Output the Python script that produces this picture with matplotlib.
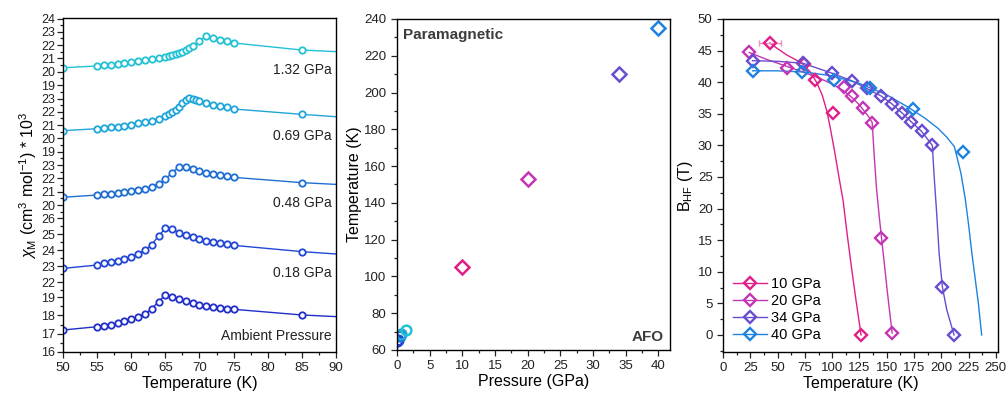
import matplotlib
matplotlib.use("Agg")
import matplotlib.pyplot as plt
from matplotlib.lines import Line2D
from matplotlib.ticker import MultipleLocator, FixedLocator

plt.rcParams['font.family'] = ['Liberation Sans', 'DejaVu Sans']
plt.rcParams['mathtext.fontset'] = 'custom'
plt.rcParams['mathtext.rm'] = 'Liberation Sans'
plt.rcParams['mathtext.it'] = 'Liberation Sans:italic'

# ---------------- data: panel (a) susceptibility vs T ----------------
T_amb = [50, 55, 56, 57, 58, 59, 60, 61, 62, 63, 64, 65, 66, 67, 68, 69, 70, 71, 72, 73, 74, 75, 85, 90]
chi_amb = [17.20, 17.38, 17.44, 17.46, 17.60, 17.67, 17.78, 17.91, 18.07, 18.36, 18.75,
           19.11, 19.02, 18.87, 18.76, 18.67, 18.58, 18.51, 18.45, 18.42, 18.36, 18.33, 18.02, 17.93]
T_018 = [50, 55, 56, 57, 58, 59, 60, 61, 62, 63, 64, 65, 66, 67, 68, 69, 70, 71, 72, 73, 74, 75, 85, 90]
chi_018 = [22.85, 23.06, 23.17, 23.27, 23.33, 23.44, 23.58, 23.75, 24.00, 24.33, 24.88,
           25.35, 25.29, 25.08, 24.92, 24.79, 24.67, 24.58, 24.50, 24.42, 24.35, 24.29, 23.90, 23.75]
T_048 = [50, 55, 56, 57, 58, 59, 60, 61, 62, 63, 64, 65, 66, 67, 68, 69, 70, 71, 72, 73, 74, 75, 85, 90]
chi_048 = [20.58, 20.75, 20.80, 20.85, 20.90, 20.95, 21.03, 21.13, 21.23, 21.38, 21.58,
           21.95, 22.43, 22.88, 22.88, 22.68, 22.53, 22.43, 22.33, 22.26, 22.18, 22.08, 21.68, 21.55]
T_069 = [50, 55, 56, 57, 58, 59, 60, 61, 62, 63, 64, 65, 65.5, 66, 66.5, 67, 67.5, 68, 68.5,
         69, 69.5, 70, 71, 72, 73, 74, 75, 85, 90]
chi_069 = [20.58, 20.73, 20.78, 20.83, 20.88, 20.96, 21.03, 21.13, 21.23, 21.33, 21.48,
           21.68, 21.81, 21.96, 22.14, 22.39, 22.69, 22.89, 23.01, 22.99, 22.89, 22.79,
           22.64, 22.54, 22.44, 22.34, 22.21, 21.81, 21.63]
T_132 = [50, 55, 56, 57, 58, 59, 60, 61, 62, 63, 64, 65, 65.5, 66, 66.5, 67, 67.5, 68, 68.5,
         69, 70, 71, 72, 73, 74, 75, 85, 90]
chi_132 = [20.30, 20.43, 20.48, 20.53, 20.58, 20.65, 20.70, 20.78, 20.85, 20.93, 21.03,
           21.13, 21.18, 21.23, 21.31, 21.38, 21.48, 21.63, 21.78, 21.93, 22.33, 22.68,
           22.56, 22.41, 22.28, 22.16, 21.63, 21.51]
labels_a = ['Ambient Pressure', '0.18 GPa', '0.48 GPa', '0.69 GPa', '1.32 GPa']

# ---------------- data: panel (b) phase diagram ----------------
P_circ = [0, 0.18, 0.48, 0.69, 1.32]
TN_circ = [65, 65.5, 67.5, 68.5, 71]
P_diam = [10, 20, 34, 40]
TN_diam = [105, 153, 210, 235]

# ---------------- data: panel (c) hyperfine field ----------------
T10 = [43, 74, 84, 101, 126.5]
B10 = [46.2, 42.8, 40.4, 35.1, 0]
T10_err = [10, 0, 0, 0, 0]
T20 = [24, 58.5, 110.5, 118.3, 128.2, 136.7, 145.2, 155]
B20 = [44.7, 42.3, 39.3, 37.8, 35.9, 33.6, 15.4, 0.3]
T34 = [27, 73.2, 100.2, 118.3, 131.7, 145, 154.5, 163.6, 172.7, 182, 191.8, 201, 211.7]
B34 = [43.4, 43.0, 41.4, 40.2, 39.0, 37.8, 36.6, 35.2, 33.7, 32.2, 30.0, 7.6, 0]
T40 = [27, 72.8, 101.4, 135.1, 173.7, 220.3]
B40 = [41.7, 41.6, 40.3, 39.1, 35.7, 29.0]

# guide curves
T10_fit = [43, 50, 58.5, 66, 73, 80, 86, 91, 95, 98, 102, 106, 110, 114, 118, 122, 126.5]
B10_fit = [46.2, 45.3, 44.3, 43.6, 42.9, 41.6, 39.9, 37.9, 35.5, 33.0, 29.3, 25.2, 21.3, 15.6, 10.3, 5.3, 0]
T20_fit = [24, 40, 58.5, 75, 90, 100, 110, 118, 125, 130, 134, 136.7, 138.5, 140.5, 143, 145.2, 148, 150.4, 153, 155]
B20_fit = [44.7, 43.6, 42.5, 41.5, 40.5, 39.7, 38.7, 37.6, 36.4, 35.3, 34.4, 33.6, 28.5, 23.5, 19.0, 15.4, 11.0, 7.1, 3.2, 0.3]
T34_fit = [27, 50, 73.2, 100.2, 118.3, 131.7, 145, 154.5, 163.6, 172.7, 182, 191.8, 193.5, 195.5, 198, 201, 205, 211.7]
B34_fit = [43.4, 43.3, 43.0, 41.4, 40.2, 39.0, 37.8, 36.6, 35.2, 33.7, 32.2, 30.0, 25.0, 20.0, 13.0, 7.6, 4.0, 0]
T40_fit = [27, 50, 75, 100, 125, 150, 170, 185, 197, 205, 212, 218, 222, 225, 228, 231, 234, 237]
B40_fit = [41.8, 41.8, 41.6, 41.0, 39.8, 38.0, 36.0, 34.3, 32.7, 31.3, 29.8, 25.6, 21.5, 17.5, 13.0, 9.0, 5.0, 0]
labels_c = ['10 GPa', '20 GPa', '34 GPa', '40 GPa']

# colours
col_a = ['#1f2fc8', '#2047d6', '#1f6fd2', '#1fa6d8', '#22c2d4']
col_c = ['#e01f88', '#c336b4', '#6a4ccf', '#1f82e0']

fig = plt.figure(figsize=(10.08, 3.94), dpi=100)
ax1 = fig.add_axes([0.0625, 0.1066, 0.2708, 0.8477])
ax2 = fig.add_axes([0.3938, 0.1117, 0.2708, 0.8401])
ax3 = fig.add_axes([0.7173, 0.1066, 0.2728, 0.8452])

for ax in (ax1, ax2, ax3):
    for s in ax.spines.values():
        s.set_linewidth(1.0)
    ax.tick_params(which='both', direction='out', top=False, right=False,
                   labelsize=9.5, colors='#222222', width=0.9)
    ax.tick_params(which='major', length=4)
    ax.tick_params(which='minor', length=2.2)

# ---------- panel (a): stacked layers, each with its own scale ----------
# (value at lowest label, position of that label, px per unit, lowest label, highest label)
segs = [(16, 0.0, 18.33, 16, 19),
        (22, 70.0, 16.0, 22, 26),
        (20, 147.0, 13.3, 20, 23),
        (19, 200.3, 13.3, 19, 23),
        (19, 267.0, 13.3, 19, 24)]


def to_u(vals, seg):
    v0, u0, sc = seg[0], seg[1], seg[2]
    return [u0 + (v - v0) * sc for v in vals]


series_a = [(T_amb, chi_amb), (T_018, chi_018), (T_048, chi_048), (T_069, chi_069), (T_132, chi_132)]
for (tt, cc), seg, col in zip(series_a, segs, col_a):
    ax1.plot(tt, to_u(cc, seg), '-o', color=col, lw=1.0, ms=4.6, mew=1.3,
             mfc='white', markevery=list(range(len(tt) - 1)))

maj_pos, maj_lab, min_pos = [], [], []
prev_top = None
for seg in segs:
    vals = list(range(seg[3], seg[4] + 1))
    us = to_u(vals, seg)
    maj_pos += us
    maj_lab += [str(v) for v in vals]
    min_pos += [u + seg[2] / 2 for u in us[:-1]]
    if prev_top is not None:
        min_pos.append((prev_top + us[0]) / 2)
    prev_top = us[-1]
ax1.yaxis.set_major_locator(FixedLocator(maj_pos))
ax1.set_yticklabels(maj_lab)
ax1.yaxis.set_minor_locator(FixedLocator(min_pos))
ax1.tick_params(axis='y', labelsize=9, pad=1.5)
ax1.set_ylim(0, 334)
ax1.set_xlim(50, 90)
ax1.xaxis.set_major_locator(MultipleLocator(5))
ax1.xaxis.set_minor_locator(MultipleLocator(2.5))
ax1.set_xlabel('Temperature (K)', fontsize=11.5, labelpad=1)
ax1.set_ylabel(r'$\chi_{\rm M}$ (cm$^3$ mol$^{-1}$) * 10$^3$', fontsize=11.5, labelpad=2)

lab_u = [16.3, 79, 149.3, 216, 282]
for txt, u in zip(labels_a, lab_u):
    ax1.text(89.4, u, txt, ha='right', va='center', fontsize=10, color='#222222')

# ---------- panel (b): phase diagram ----------
for p, t, col in zip(P_circ, TN_circ, col_a):
    ax2.plot([p], [t], 'o', color=col, ms=7, mew=1.8, mfc='none')
for p, t, col in zip(P_diam, TN_diam, col_c):
    ax2.plot([p], [t], 'D', color=col, ms=7, mew=1.8, mfc='none')
ax2.set_xlim(0, 41.8)
ax2.set_ylim(60, 240)
ax2.xaxis.set_major_locator(MultipleLocator(5))
ax2.xaxis.set_minor_locator(MultipleLocator(2.5))
ax2.yaxis.set_major_locator(MultipleLocator(20))
ax2.yaxis.set_minor_locator(MultipleLocator(10))
ax2.set_xlabel('Pressure (GPa)', fontsize=11.5, labelpad=1)
ax2.set_ylabel('Temperature (K)', fontsize=11.5, labelpad=2)
ax2.text(0.97, 231.3, 'Paramagnetic', fontsize=11, fontweight='bold', color='#3c3c3c',
         ha='left', va='center')
ax2.text(40.9, 67.2, 'AFO', fontsize=11, fontweight='bold', color='#3c3c3c',
         ha='right', va='center')

# ---------- panel (c): hyperfine field ----------
fits = [(T10_fit, B10_fit), (T20_fit, B20_fit), (T34_fit, B34_fit), (T40_fit, B40_fit)]
pts = [(T10, B10), (T20, B20), (T34, B34), (T40, B40)]
for (tf, bf), col in zip(fits, col_c):
    ax3.plot(tf, bf, '-', color=col, lw=1.0)
ax3.errorbar(T10[:1], B10[:1], xerr=T10_err[:1], fmt='none', ecolor='#f08cc0',
             elinewidth=1.0, capsize=2.5, capthick=1.0)
for (tt, bb), col in zip(pts, col_c):
    ax3.plot(tt, bb, 'D', color=col, ms=6.2, mew=1.7, mfc='none', zorder=3)
handles = [Line2D([], [], color=c, lw=1.0, marker='D', ms=6.2, mew=1.7, mfc='none')
           for c in col_c]
ax3.legend(handles, labels_c, loc='lower left', frameon=False, fontsize=10.5,
           handlelength=2.3, handletextpad=0.3, labelspacing=0.2,
           borderaxespad=0.3, bbox_to_anchor=(0.0, 0.0))
ax3.set_xlim(0, 252)
ax3.set_ylim(-2.7, 50)
ax3.xaxis.set_major_locator(MultipleLocator(25))
ax3.xaxis.set_minor_locator(MultipleLocator(12.5))
ax3.yaxis.set_major_locator(MultipleLocator(5))
ax3.yaxis.set_minor_locator(MultipleLocator(2.5))
ax3.set_xlabel('Temperature (K)', fontsize=11.5, labelpad=1)
ax3.set_ylabel(r'B$_{\rm HF}$ (T)', fontsize=11.5, labelpad=2)

fig.savefig('out.png', dpi=100)
